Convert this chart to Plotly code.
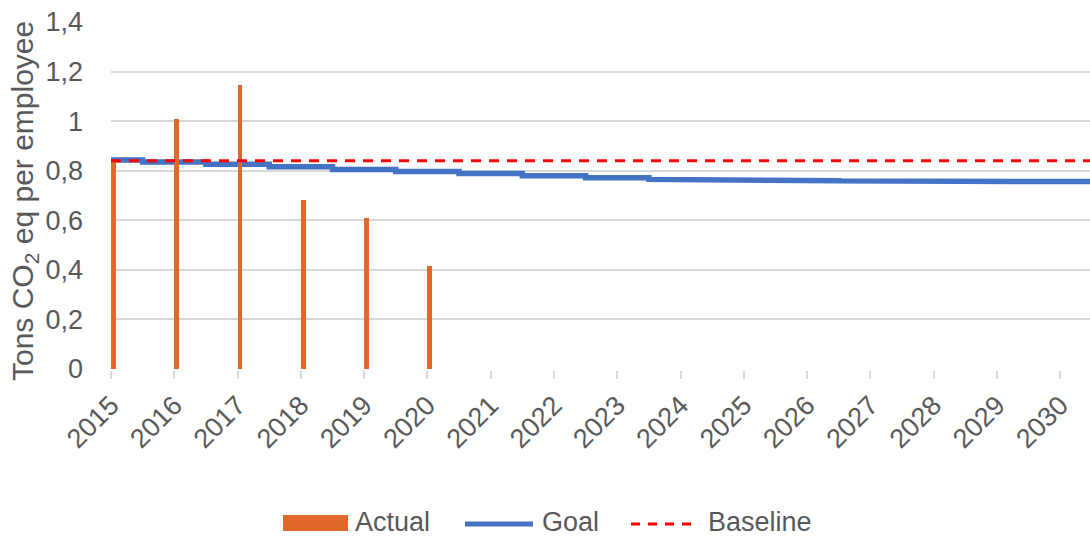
import numpy as np
import plotly.graph_objects as go

# --- data -----------------------------------------------------------------
years = list(range(2015, 2031))
actual_years = [2015, 2016, 2017, 2018, 2019, 2020]
actual = [0.84, 1.01, 1.145, 0.68, 0.61, 0.415]
goal = [0.843, 0.835, 0.826, 0.816, 0.805, 0.797, 0.789, 0.780,
        0.772, 0.765, 0.764, 0.760, 0.759, 0.758, 0.757, 0.756]
baseline = 0.84
y_ticks = [0, 0.2, 0.4, 0.6, 0.8, 1.0, 1.2, 1.4]

# --- styling ----------------------------------------------------------------
ORANGE = "#E2672A"
BLUE = "#4472C4"
RED = "#FF0000"
GRID = "#D9D9D9"
TEXT = "#595959"
FONT = "Liberation Sans, Arial, sans-serif"

W, H = 1090, 539
ML, MR, MT, MB = 111, 0, 22, 170
PW, PH = W - ML - MR, H - MT - MB


def px(x):
    """Pixel column -> paper x."""
    return (x - ML) / PW


def py(y):
    """Pixel row -> paper y."""
    return (H - MB - y) / PH


x_end = years[-1] + 0.47

# goal is a yearly step: each year's value holds from mid-year to mid-year
gx, gy = [], []
for yr, v in zip(years, goal):
    gx += [max(yr - 0.5, years[0]), yr + 0.5]
    gy += [v, v]

fig = go.Figure()

fig.add_trace(go.Scatter(
    x=gx, y=gy, mode="lines", name="Goal",
    line=dict(color=BLUE, width=5.5), zorder=0,
))

fig.add_trace(go.Bar(
    x=actual_years, y=actual, name="Actual",
    width=0.075, offset=0,
    marker=dict(color=ORANGE, line=dict(width=0)),
    zorder=1,
))

fig.add_trace(go.Scatter(
    x=[years[0], years[-1] + 1], y=[baseline, baseline], mode="lines",
    name="Baseline", line=dict(color=RED, width=3, dash="10px,8px"),
    zorder=2,
))

# legend drawn below the axis: swatch + label for each series
LEG_Y = 523
legend_shapes = [
    dict(type="rect", xref="paper", yref="paper",
         x0=px(283), x1=px(348), y0=py(LEG_Y + 8), y1=py(LEG_Y - 8),
         fillcolor=ORANGE, line=dict(width=0)),
    dict(type="line", xref="paper", yref="paper",
         x0=px(465), x1=px(533), y0=py(LEG_Y + 1), y1=py(LEG_Y + 1),
         line=dict(color=BLUE, width=5)),
    dict(type="line", xref="paper", yref="paper",
         x0=px(631), x1=px(698), y0=py(LEG_Y + 1), y1=py(LEG_Y + 1),
         line=dict(color=RED, width=3, dash="9px,8px")),
]
legend_labels = [("Actual", 353), ("Goal", 540), ("Baseline", 706)]
legend_annotations = [
    dict(text=t, xref="paper", yref="paper", x=px(x0), y=py(LEG_Y - 1.5),
         xanchor="left", yanchor="middle", showarrow=False,
         font=dict(size=27, color=TEXT))
    for t, x0 in legend_labels
]

fig.update_layout(
    width=W, height=H,
    margin=dict(l=ML, r=MR, t=MT, b=MB),
    paper_bgcolor="white", plot_bgcolor="white",
    separators=", ",
    font=dict(family=FONT, color=TEXT, size=27),
    showlegend=False,
    bargap=0,
    xaxis=dict(
        range=[years[0], x_end], tickmode="array", tickvals=years,
        ticktext=[str(y) for y in years], tickangle=-45,
        showgrid=False, zeroline=False,
        showline=True, linecolor=GRID, linewidth=1.5,
        ticks="outside", ticklen=8, tickwidth=1.5, tickcolor=GRID,
        tickfont=dict(size=27, color=TEXT),
    ),
    yaxis=dict(
        range=[0, 1.4], tickmode="array", tickvals=y_ticks,
        showgrid=True, gridcolor=GRID, gridwidth=1.5,
        zeroline=False, showline=False,
        ticklabelstandoff=27,
        tickfont=dict(size=27, color=TEXT),
    ),
    shapes=legend_shapes,
    annotations=[dict(
        text="Tons CO<sub>2</sub> eq per employee",
        textangle=-90, xref="paper", yref="paper",
        x=px(25), y=py(201), xanchor="center", yanchor="middle",
        showarrow=False, font=dict(size=30, color=TEXT),
    )] + legend_annotations,
)

fig.write_html("out.html")
